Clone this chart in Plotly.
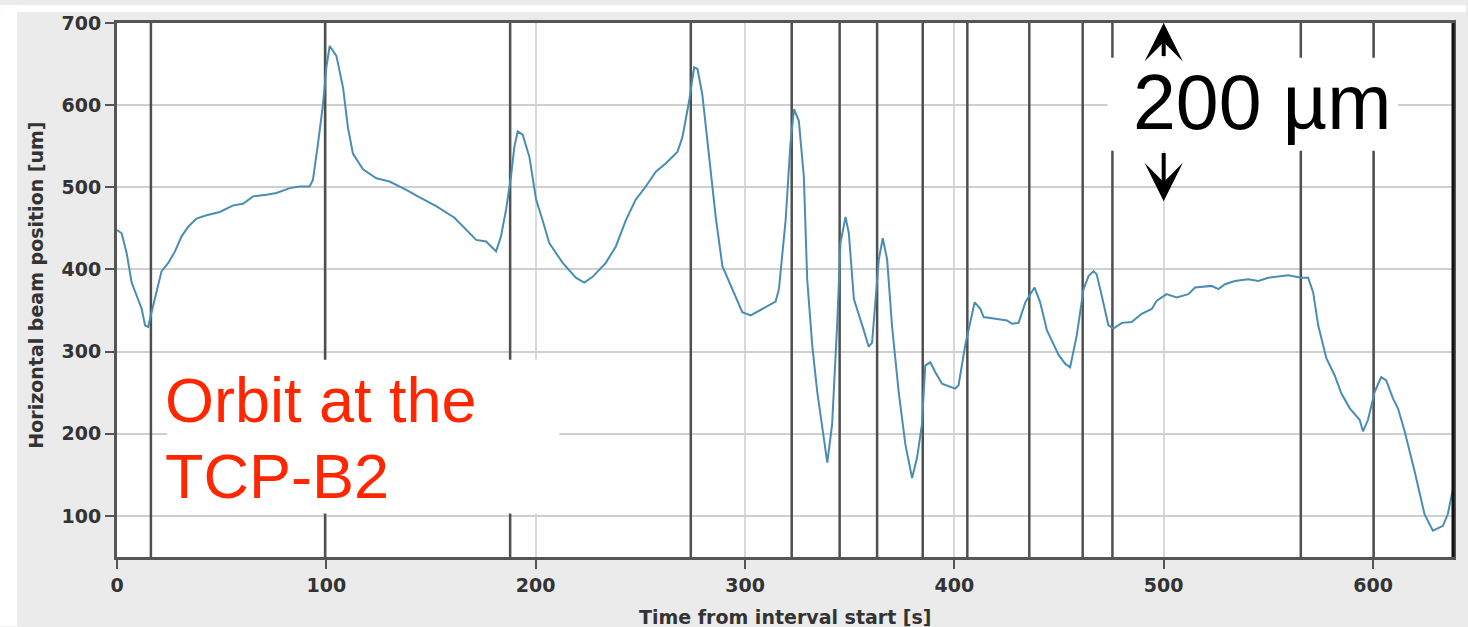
import plotly.graph_objects as go

# ---- data ----
time_s = [0.0, 2.2, 4.6, 7.0, 9.4, 11.8, 13.4, 14.9, 16.5, 18.9, 21.3, 24.5, 27.7, 30.8, 34.0, 38.0,
          42.8, 49.1, 55.5, 60.2, 65.0, 71.4, 76.2, 82.5, 87.3, 92.0, 93.6, 96.0, 98.4, 100.0, 101.6,
          104.8, 108.0, 110.3, 112.7, 117.5, 123.9, 130.2, 138.2, 143.7, 152.5, 161.2, 166.8, 171.6,
          176.3, 181.1, 183.4, 185.8, 188.2, 189.8, 191.4, 193.8, 197.0, 200.2, 203.3, 206.5, 212.9,
          219.2, 223.2, 227.2, 233.5, 238.3, 243.1, 247.8, 252.6, 257.4, 262.1, 267.7, 270.1, 273.3,
          275.7, 277.3, 279.6, 282.8, 286.0, 289.2, 293.9, 298.7, 302.7, 308.3, 314.6, 316.2, 319.4,
          321.7, 323.4, 325.7, 328.1, 329.7, 332.1, 334.5, 336.9, 339.3, 341.6, 344.0, 345.6, 348.0,
          349.6, 352.0, 356.0, 359.1, 360.7, 363.9, 365.8, 367.9, 370.2, 373.4, 376.6, 379.8, 382.2,
          384.5, 386.1, 388.5, 390.9, 394.1, 400.4, 402.0, 405.2, 409.7, 412.4, 414.0, 419.6, 425.1,
          427.5, 430.7, 433.9, 438.3, 441.0, 444.2, 449.8, 453.0, 455.3, 458.5, 461.7, 464.1, 466.5,
          468.0, 470.4, 473.6, 476.0, 480.0, 484.7, 489.5, 494.3, 496.7, 501.4, 506.2, 511.8, 515.0,
          522.9, 526.1, 529.3, 534.0, 540.4, 545.2, 549.9, 559.5, 565.8, 569.0, 571.4, 573.8, 577.7,
          581.7, 584.9, 588.9, 593.6, 595.2, 597.6, 600.8, 603.9, 606.3, 609.5, 611.9, 615.1, 619.8,
          624.6, 628.6, 633.4, 635.7, 638.1]
position_um = [448, 444, 420, 384, 368, 352, 332, 330, 348, 374, 398, 408, 422, 440, 452, 462,
               466, 470, 478, 480, 489, 491, 493, 499, 501, 501, 509, 553, 601, 646, 672,
               660, 621, 573, 541, 522, 511, 507, 497, 489, 477, 463, 448, 436,
               434, 422, 440, 472, 513, 549, 568, 564, 537, 485, 460, 432, 408,
               390, 384, 391, 408, 428, 460, 485, 501, 519, 529, 543, 561, 605,
               646, 644, 613, 541, 464, 404, 376, 348, 344, 352, 361, 376, 460,
               553, 595, 581, 513, 388, 308, 251, 211, 165, 211, 332, 432, 464,
               444, 364, 332, 306, 311, 412, 438, 412, 332, 251, 187, 146, 171,
               211, 283, 287, 275, 261, 255, 259, 308, 360, 352, 342, 340, 338,
               334, 335, 360, 378, 360, 326, 296, 285, 281, 320, 376, 392, 398,
               394, 368, 332, 328, 335, 336, 346, 352, 362, 370, 366, 370, 378,
               380, 376, 382, 386, 388, 386, 390, 393, 390, 390, 372, 332, 292,
               271, 249, 231, 217, 203, 217, 251, 269, 265, 243, 231, 203, 155,
               102, 82, 88, 102, 132]
event_times_s = [16.2, 99.4, 187.8, 274.1, 322.3, 345.2, 363.1, 384.9, 406.2, 435.8, 461.3,
                 475.5, 565.5, 600.3]
x_ticks = [0, 100, 200, 300, 400, 500, 600]
y_ticks = [100, 200, 300, 400, 500, 600, 700]
x_title = "Time from interval start [s]"
y_title = "Horizontal beam position [um]"
label_orbit = ["Orbit at the", "TCP-B2"]
label_scale = "200 µm"
scale_time = 500
scale_arrow_up = (658, 700)     # tail, tip (um)
scale_arrow_down = (543.5, 483)  # tail, tip (um)

X_RANGE = [0, 638.2]
Y_RANGE = [50, 700]

# ---- layout geometry ----
W, H = 1468, 627
L, R, T, B = 117, 13, 18, 70
PW, PH = W - L - R, H - T - B


def px_x(px):
    return (px - L) / PW


def px_y(py):
    return (H - B - py) / PH


tick_font = dict(family="DejaVu Sans", size=19, color="#333333", weight="bold")
title_font = dict(family="DejaVu Sans", size=19, color="#333333", weight="bold")

fig = go.Figure()

# event markers: vertical lines spanning the full y range
ev_x, ev_y = [], []
for t in event_times_s:
    ev_x += [t, t, None]
    ev_y += [Y_RANGE[0], Y_RANGE[1], None]
fig.add_trace(go.Scatter(x=ev_x, y=ev_y, mode="lines", line=dict(color="#4f4f4f", width=2.5),
                         showlegend=False, hoverinfo="skip", cliponaxis=True))

fig.add_trace(go.Scatter(x=time_s, y=position_um, mode="lines",
                         line=dict(color="#4a8db3", width=2), showlegend=False,
                         hoverinfo="skip"))

shapes = [
    # white strips around the grey panel
    dict(type="rect", xref="paper", yref="paper", x0=px_x(0), x1=px_x(17), y0=px_y(H), y1=px_y(0),
         fillcolor="white", line=dict(width=0), layer="below"),
    dict(type="rect", xref="paper", yref="paper", x0=px_x(0), x1=px_x(W), y0=px_y(7), y1=px_y(0),
         fillcolor="white", line=dict(width=0), layer="below"),
    # white label boxes
    dict(type="rect", xref="paper", yref="paper", x0=px_x(167), x1=px_x(560), y0=px_y(513), y1=px_y(358),
         fillcolor="white", line=dict(width=0), layer="above"),
    dict(type="rect", xref="paper", yref="paper", x0=px_x(1109), x1=px_x(1400), y0=px_y(147), y1=px_y(53),
         fillcolor="white", line=dict(width=0), layer="above"),
    # black right border
    dict(type="line", xref="paper", yref="paper", x0=1, x1=1, y0=0, y1=1,
         line=dict(color="#111111", width=3), layer="above"),
]
for s in shapes:
    fig.add_shape(**s)

ann = [
    dict(text=label_orbit[0], x=px_x(163), y=px_y(399), xanchor="left", yanchor="middle",
         font=dict(family="Liberation Sans", size=63, color="#ff2600")),
    dict(text=label_orbit[1], x=px_x(163), y=px_y(475), xanchor="left", yanchor="middle",
         font=dict(family="Liberation Sans", size=63, color="#ff2600")),
    dict(text=label_scale, x=px_x(1133), y=px_y(98), xanchor="left", yanchor="middle",
         font=dict(family="Liberation Sans", size=77, color="black")),
    dict(text=y_title, x=px_x(35), y=px_y(283), textangle=-90, xanchor="center", yanchor="middle",
         font=title_font),
    dict(text=x_title, x=px_x(786), y=px_y(618), xanchor="center", yanchor="middle",
         font=title_font),
]
for a in ann:
    fig.add_annotation(xref="paper", yref="paper", showarrow=False, **a)

for tail, tip in (scale_arrow_up, scale_arrow_down):
    fig.add_annotation(x=scale_time, y=tip, ax=scale_time, ay=tail, xref="x", yref="y",
                       axref="x", ayref="y", text="", showarrow=True, arrowhead=3,
                       arrowwidth=4, arrowsize=1.6, arrowcolor="black", standoff=0)

fig.update_layout(
    width=W, height=H, margin=dict(l=L, r=R, t=T, b=B),
    paper_bgcolor="#ebebeb", plot_bgcolor="white",
    xaxis=dict(range=X_RANGE, tickvals=x_ticks, ticks="outside", ticklen=9, tickwidth=2,
               tickcolor="#555555", tickfont=tick_font, showline=True, linecolor="#555555",
               linewidth=3, mirror=True, showgrid=True, gridcolor="#d9d9d9", gridwidth=2,
               zeroline=False),
    yaxis=dict(range=Y_RANGE, tickvals=y_ticks, ticks="outside", ticklen=9, tickwidth=2,
               tickcolor="#555555", tickfont=tick_font, showline=True, linecolor="#555555",
               linewidth=3, mirror=True, showgrid=True, gridcolor="#cfcfcf", gridwidth=2,
               zeroline=False),
)

fig.write_html("out.html")
